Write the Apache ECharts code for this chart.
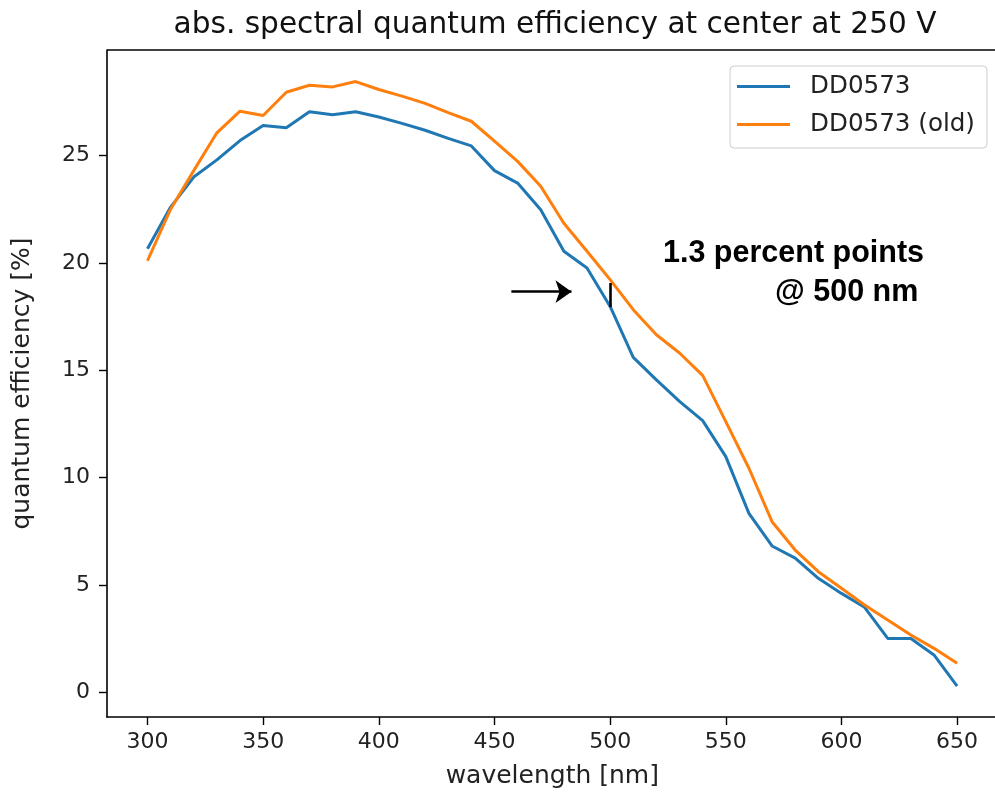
<!DOCTYPE html>
<html>
<head>
<meta charset="utf-8">
<script src="https://cdn.jsdelivr.net/npm/echarts@6/dist/echarts.min.js"></script>
<style>
html,body{margin:0;padding:0;background:#fff;}
#chart{width:995px;height:793px;}
</style>
</head>
<body>
<div id="chart"></div>
<script>
// wavelengths [nm]
const wavelengths = [300,310,320,330,340,350,360,370,380,390,400,410,420,430,440,450,460,470,480,490,500,510,520,530,540,550,560,570,580,590,600,610,620,630,640,650];
// DD0573 quantum efficiency [%]
const qeNew = [20.66,22.6,24.0,24.8,25.7,26.4,26.3,27.04,26.9,27.04,26.8,26.5,26.18,25.8,25.45,24.3,23.72,22.48,20.54,19.76,17.97,15.6,14.55,13.55,12.65,10.97,8.33,6.81,6.24,5.3,4.6,3.95,2.5,2.5,1.73,0.28];
// DD0573 (old) quantum efficiency [%]
const qeOld = [20.1,22.5,24.3,26.06,27.07,26.87,27.95,28.28,28.2,28.45,28.08,27.77,27.43,27.0,26.6,25.67,24.73,23.57,21.85,20.54,19.22,17.82,16.65,15.8,14.76,12.6,10.43,7.94,6.62,5.61,4.84,4.06,3.36,2.66,2.04,1.34];
// tick labels
const xTicks = [300,350,400,450,500,550,600,650];
const yTicks = [0,5,10,15,20,25];
// annotation values
const annotWavelength = 500;
const annotLow = 17.94, annotHigh = 19.06;
const arrowFrom = 457.3, arrowTo = 483.3, arrowY = 18.66;
const seriesNames = ['DD0573','DD0573 (old)'];

const chart = echarts.init(document.getElementById('chart'), null, {renderer:'canvas'});
const txt = '#222';
const font = 'DejaVu Sans';

function pairs(xs, ys){ return xs.map((x,i)=>[x, ys[i]]); }

chart.setOption({
  animation:false,
  backgroundColor:'#fff',
  title:{
    text:'abs. spectral quantum efficiency at center at 250 V',
    left:550, top:5, textAlign:'center',
    textStyle:{fontFamily:font, fontSize:29.6, fontWeight:'normal', color:'#111'}
  },
  legend:{
    orient:'vertical',
    left:730, top:66,
    padding:[8,12,11,7],
    borderColor:'#cccccc', borderWidth:1, borderRadius:4,
    backgroundColor:'rgba(255,255,255,0.8)',
    itemWidth:53, itemHeight:3, itemGap:13,
    icon:'rect',
    textStyle:{fontFamily:font, fontSize:24.6, color:txt, padding:[0,0,0,15]},
    data:seriesNames
  },
  grid:{left:107, top:50, width:890.6, height:667, containLabel:false, outerBoundsMode:'none'},
  xAxis:{
    type:'value', min:282.5, max:667.5,
    name:'wavelength [nm]', nameLocation:'middle', nameGap:47,
    nameTextStyle:{fontFamily:font, fontSize:25, color:txt},
    axisLine:{show:true, onZero:false, lineStyle:{color:'#000', width:1.6}},
    axisTick:{show:true, length:8, customValues:xTicks, lineStyle:{color:'#000', width:1.4}},
    axisLabel:{customValues:xTicks, margin:14, fontFamily:font, fontSize:22, color:txt},
    splitLine:{show:false}
  },
  yAxis:{
    type:'value', min:-1.16, max:29.92,
    name:'quantum efficiency [%]', nameLocation:'middle', nameGap:72,
    nameTextStyle:{fontFamily:font, fontSize:25, color:txt},
    axisLine:{show:true, onZero:false, lineStyle:{color:'#000', width:1.6}},
    axisTick:{show:true, length:8, customValues:yTicks, lineStyle:{color:'#000', width:1.4}},
    axisLabel:{customValues:yTicks, margin:17, fontFamily:font, fontSize:22, color:txt},
    splitLine:{show:false}
  },
  graphic:[
    {type:'line', shape:{x1:107,y1:50,x2:995,y2:50}, style:{stroke:'#000', lineWidth:1.6}, silent:true, z:10},
    {type:'text', x:663, y:254, style:{text:'1.3 percent points', fontFamily:'Liberation Sans', fontWeight:'bold', fontSize:30.5, fill:'#000', verticalAlign:'middle'}},
    {type:'text', x:775, y:293, style:{text:'@ 500 nm', fontFamily:'Liberation Sans', fontWeight:'bold', fontSize:30.5, fill:'#000', verticalAlign:'middle'}}
  ],
  series:[
    {
      name:seriesNames[0], type:'line', data:pairs(wavelengths, qeNew),
      showSymbol:false, symbol:'none', color:'#1f77b4',
      lineStyle:{width:3, color:'#1f77b4'},
      markLine:{
        silent:true, animation:false,
        label:{show:false},
        data:[
          [{coord:[annotWavelength, annotLow], symbol:'none'},{coord:[annotWavelength, annotHigh], symbol:'none'}],
          [{coord:[arrowFrom, arrowY], symbol:'none'},{coord:[arrowTo, arrowY], symbol:'arrow', symbolSize:[17,16]}]
        ],
        lineStyle:{color:'#000', width:2.6, type:'solid'}
      }
    },
    {
      name:seriesNames[1], type:'line', data:pairs(wavelengths, qeOld),
      showSymbol:false, symbol:'none', color:'#ff7f0e',
      lineStyle:{width:3, color:'#ff7f0e'}
    }
  ]
});
</script>
</body>
</html>
